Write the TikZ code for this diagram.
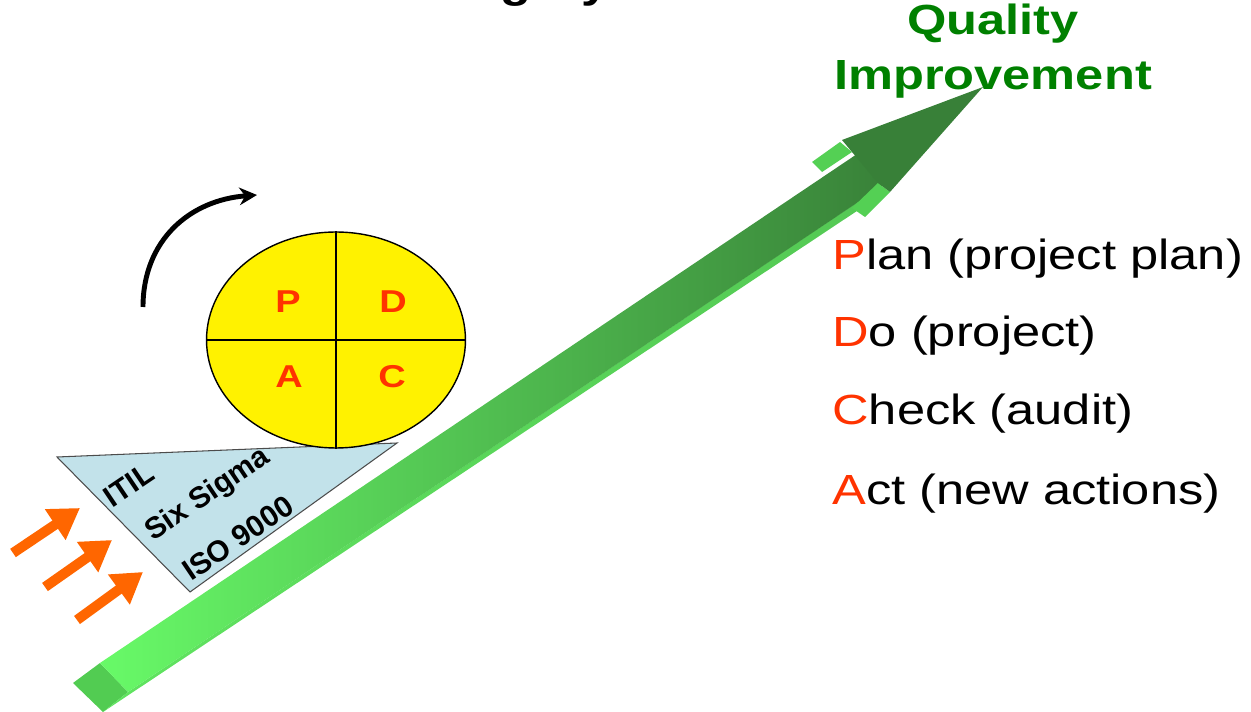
\documentclass[tikz,border=0pt]{standalone}
\usepackage{fontspec}
\setmainfont{Liberation Sans}
\newfontfamily\widefont[FakeStretch=1.2]{Liberation Sans}
\usetikzlibrary{shapes.geometric, arrows.meta, positioning}
\definecolor{pdcared}{RGB}{255,51,0}
\definecolor{goalgreen}{RGB}{0,128,0}
\definecolor{pushorange}{RGB}{255,102,0}
\definecolor{wedgeblue}{RGB}{194,226,234}
\definecolor{shaftlight}{RGB}{104,250,104}
\definecolor{shaftdark}{RGB}{56,128,56}
\definecolor{sidelight}{RGB}{96,228,96}
\definecolor{sidedark}{RGB}{84,200,84}
\definecolor{barbgreen}{RGB}{84,208,84}
\definecolor{endgreen}{RGB}{82,204,82}
\tikzset{
  pdcawheel/.style={ellipse, draw=black, line width=0.8pt, fill=yellow,
                    minimum width=5.18cm, minimum height=4.32cm, inner sep=0pt},
  letter/.style={font=\widefont\bfseries\fontsize{18}{18}\selectfont, text=pdcared,
                 anchor=base, inner sep=0pt},
  stepitem/.style={font=\widefont\fontsize{24}{28}\selectfont, anchor=base west, inner sep=0pt},
  goal/.style={font=\widefont\bfseries\fontsize{24}{28}\selectfont, text=goalgreen,
               anchor=base, inner sep=0pt},
  method/.style={font=\bfseries\fontsize{17}{20}\selectfont, rotate=34, inner sep=0pt},
  push/.style={-{Triangle[length=17pt, width=20pt]}, line width=5.7pt, draw=pushorange},
  turn/.style={-{Stealth[length=10pt, width=10pt]}, line width=2.8pt}
}

\begin{document}
\begin{tikzpicture}[x=0.02cm, y=-0.02cm]
\useasboundingbox (0,0) rectangle (1251,712);
\clip (0,0) rectangle (1251,712);

\node (title) [goal, text=black] at (513,-2) {Deming Cycle};

% big green arrow
\fill [endgreen] (73,683) -- (100,663) -- (128,692) -- (103,712) -- cycle;
\shade [left color=sidelight, right color=sidedark] (128,692) -- (880,187) -- (884,193) -- (103,712) -- cycle;
\shade [left color=shaftlight, right color=shaftdark] (100,663) -- (866,148) -- (894,178) -- (128,692) -- cycle;
\fill [barbgreen] (812,162) -- (840,142) -- (852,152) -- (822,172) -- cycle;
\fill [barbgreen] (852,208) -- (878,183) -- (890,192) -- (865,217) -- cycle;
\fill [shaftdark] (983,87) -- (842,140) -- (852,152) -- (878,183) -- (890,192) -- cycle;

\node (quality) [goal] at (993,35) {Quality};
\node (improvement) [goal] at (993,90) {Improvement};

% wheel on the wedge
\draw [draw=black!70, fill=wedgeblue, line width=0.6pt] (57,457) -- (397,443) -- (190,592) -- cycle;
\node (itil) [method] at (129,485) {ITIL};
\node (sixsigma) [method] at (208,495) {Six Sigma};
\node (iso) [method] at (238,538) {ISO 9000};

\node (wheel) [pdcawheel] at (336,340) {};
\draw [line width=0.8pt] (wheel.north) -- (wheel.south);
\draw [line width=0.8pt] (wheel.west) -- (wheel.east);
\node (plet) [letter] at (288,313) {P};
\node (dlet) [letter] at (393,313) {D};
\node (alet) [letter] at (289,388) {A};
\node (clet) [letter] at (392,388) {C};

\draw [turn] (143,307) .. controls (143,240) and (190,200) .. (257,195);

% pushing arrows
\draw [push] (13,553) -- (80,508);
\draw [push] (45,587) -- (112,540);
\draw [push] (77,620) -- (143,572);

% steps
\node (plan) [stepitem] at (832,270) {\textcolor{pdcared}{P}lan (project plan)};
\node (do) [stepitem] at (832,347) {\textcolor{pdcared}{D}o (project)};
\node (check) [stepitem] at (832,425) {\textcolor{pdcared}{C}heck (audit)};
\node (act) [stepitem] at (832,505) {\textcolor{pdcared}{A}ct (new actions)};
\end{tikzpicture}
\end{document}
